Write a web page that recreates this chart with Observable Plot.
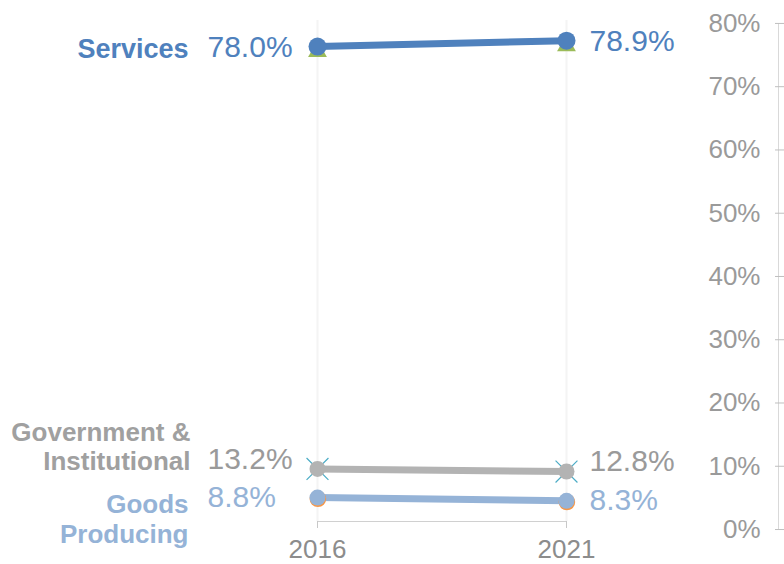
<!DOCTYPE html>
<html>
<head>
<meta charset="utf-8">
<script src="https://cdn.jsdelivr.net/npm/d3@7"></script>
<script src="https://cdn.jsdelivr.net/npm/@observablehq/plot@0.6"></script>
<style>
  html, body { margin: 0; padding: 0; background: #ffffff; }
  #chart { width: 784px; height: 564px; }
  svg { font-family: "Liberation Sans", Arial, sans-serif; }
</style>
</head>
<body>
<div id="chart"></div>
<script>
// ---- data ----
const years = [2016, 2021];
const sectors = ["Services", "Government & Institutional", "Goods Producing"];
const sectorLabels = ["Services", "Government &\nInstitutional", "Goods\nProducing"];
const share2016 = [78.0, 13.2, 8.8];
const share2021 = [78.9, 12.8, 8.3];
const axisTicks = [0, 10, 20, 30, 40, 50, 60, 70, 80];

// ---- styling ----
const lineColors = ["#4f81bd", "#b3b3b3", "#95b3d7"];
const textColors = ["#4f81bd", "#a0a0a0", "#95b3d7"];
const valueColors = ["#4f81bd", "#9a9a9a", "#95b3d7"];
const dotR = [9, 8, 8];
const labelDy = [1, -23, 21];
const valueDy = [1, -10, 0];
const labelSize = [27, 26, 26];

const rows = sectors.flatMap((s, i) =>
  years.map((yr, j) => ({sector: s, idx: i, year: yr, share: [share2016, share2021][j][i]}))
);
const firstRows = rows.filter(d => d.year === years[0]);
const lastRows = rows.filter(d => d.year === years[1]);

// secondary (displayed) axis is offset from the plotted values, as in the source chart
const secondary = d3.scaleLinear().domain([0, 80]).range([3.90, 81.55]);
const yDomain = [5.13, 85.07];

const chart = Plot.plot({
  width: 784,
  height: 564,
  marginTop: 0,
  marginBottom: 43,
  marginLeft: 0,
  marginRight: 0,
  style: {fontFamily: "Liberation Sans, Arial, sans-serif", background: "#ffffff"},
  x: {type: "point", domain: years, range: [317, 566], padding: 0, axis: null, label: null},
  y: {domain: yDomain, axis: null},
  color: {domain: sectors, range: lineColors},
  marks: [
    // faint vertical gridlines
    Plot.ruleX(years, {stroke: "#f4f4f4", strokeWidth: 2, insetTop: 20}),
    // right axis line, ticks and labels
    Plot.frame({anchor: "right", stroke: "#d9d9d9", insetRight: 6, insetTop: 23, insetBottom: -8}),
    Plot.tickY(axisTicks, {y: d => secondary(d), stroke: "#bfbfbf", insetLeft: 775}),
    Plot.text(axisTicks, {
      y: d => secondary(d), text: d => d + "%",
      frameAnchor: "right", textAnchor: "end", dx: -24,
      fontSize: 26, fill: "#9a9a9a"
    }),
    // bottom axis
    Plot.ruleY([yDomain[0]], {x1: years[0], x2: years[1], stroke: "#d0d0d0"}),
    Plot.axisX(years, {
      anchor: "bottom", tickSize: 7, tickPadding: 11, label: null,
      stroke: "#c8c8c8", fill: "#8c8c8c", fontSize: 26, tickFormat: d => String(d)
    }),
    // lines
    Plot.line(rows, {x: "year", y: "share", z: "sector", stroke: "sector", strokeWidth: 7, strokeLinecap: "butt"}),
    // background marker artifacts
    Plot.dot(rows.filter(d => d.idx === 0), {x: "year", y: "share", symbol: "triangle", r: 7, fill: "#9bbb59", dy: 5}),
    Plot.dot(rows.filter(d => d.idx === 1), {x: "year", y: "share", symbol: "times", r: 10, stroke: "#4bacc6", strokeWidth: 1.2}),
    Plot.dot(rows.filter(d => d.idx === 2), {x: "year", y: "share", r: 8.3, fill: "#f79646", dy: 1.2, dx: 0.4}),
    // main markers
    ...sectors.map((s, i) => Plot.dot(rows.filter(d => d.idx === i), {
      x: "year", y: "share", r: dotR[i], fill: lineColors[i]
    })),
    // value labels
    ...firstRows.map(r => Plot.text([r], {
      x: "year", y: "share", text: d => d.share.toFixed(1) + "%",
      textAnchor: "start", dx: -110, dy: valueDy[r.idx],
      fontSize: 30, fill: valueColors[r.idx]
    })),
    ...lastRows.map(r => Plot.text([r], {
      x: "year", y: "share", text: d => d.share.toFixed(1) + "%",
      textAnchor: "start", dx: 23, dy: valueDy[r.idx],
      fontSize: 30, fill: valueColors[r.idx]
    })),
    // category labels
    ...firstRows.map(r => Plot.text([r], {
      x: "year", y: "share", text: d => sectorLabels[d.idx],
      textAnchor: "end", dx: r.idx === 1 ? -127 : -129, dy: labelDy[r.idx],
      fontSize: labelSize[r.idx], fontWeight: "bold", lineHeight: 1.15,
      fill: textColors[r.idx]
    }))
  ]
});
document.getElementById("chart").appendChild(chart);
</script>
</body>
</html>
